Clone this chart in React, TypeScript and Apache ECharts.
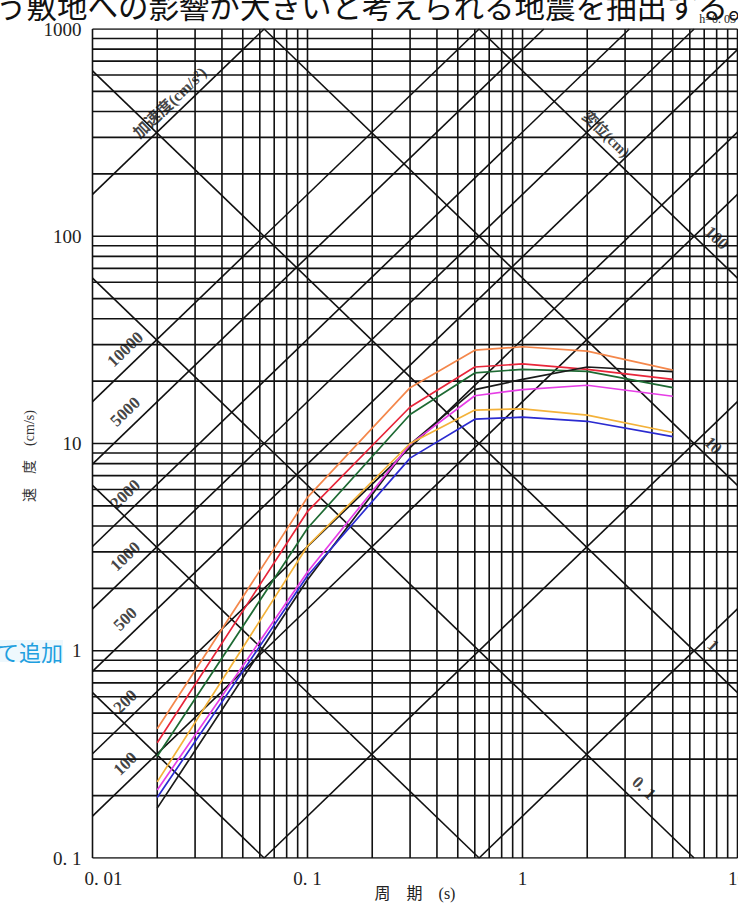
import React, { useEffect, useRef } from 'react';
import * as echarts from 'echarts';

// ---- data ----
const periods = [0.02, 0.1, 0.3, 0.6, 1, 2, 5];
const orangeV = [0.42, 5.5, 18.6, 28.2, 29.3, 27.9, 22.6];
const redV = [0.36, 4.7, 15.0, 23.4, 24.2, 22.8, 20.4];
const greenV = [0.31, 3.9, 13.8, 21.9, 22.8, 22.3, 18.6];
const blackV = [0.174, 2.2, 9.9, 18.2, 20.4, 23.4, 22.2];
const magentaV = [0.213, 2.4, 9.9, 17.0, 18.2, 19.1, 16.9];
const goldV = [0.233, 3.2, 10.0, 14.5, 14.7, 13.7, 11.3];
const blueV = [0.196, 2.3, 8.5, 13.1, 13.4, 12.8, 10.8];

const xTickText = ['0. 01', '0. 1', '1', '10'];
const yTickText = ['0. 1', '1', '10', '100', '1000'];

// tripartite guide lines
const accelLines = [1, 10, 100, 200, 500, 1000, 2000, 5000, 10000, 100000];
const accelLabels = [100, 200, 500, 1000, 2000, 5000, 10000];
const dispLines = [0.001, 0.01, 0.1, 1, 10, 100];
const dispLabels = [0.1, 1, 10, 100];
const dispLabelText = ['0. 1', '1', '10', '100'];

// ---- layout / style constants ----
const X_MIN = 0.01, X_MAX = 10, Y_MIN = 0.1, Y_MAX = 1000;
const TWO_PI = 2 * Math.PI;
const SERIF = '"Liberation Serif", "DejaVu Serif", "Noto Sans CJK JP", serif';
const GRID_COLOR = '#111111';
const accelLabelT = 0.0142;
const dispLabelT = [3.67, 7.7, 7.7, 8.0];
const dispLift = [1.27, 1.3, 1.2, 1.25];
const LIFT = 1.26;

function gridValues(lo: number, hi: number): number[] {
  const out: number[] = [];
  for (let d = lo; d < hi * 0.999; d *= 10) {
    for (let m = 1; m < 10; m++) out.push(parseFloat((m * d).toPrecision(3)));
  }
  out.push(hi);
  return out;
}

export default function App() {
  const ref = useRef<HTMLDivElement>(null);
  useEffect(() => {
    if (!ref.current) return;
    const chart = echarts.init(ref.current, null, { renderer: 'svg' });
    const series: any[] = [];
    const gridLine = (data: number[][]) => ({
      type: 'line', data, symbol: 'none', silent: true, z: 2,
      lineStyle: { color: GRID_COLOR, width: 1.6 },
    });
    gridValues(X_MIN, X_MAX).forEach((v) => series.push(gridLine([[v, Y_MIN], [v, Y_MAX]])));
    gridValues(Y_MIN, Y_MAX).forEach((v) => series.push(gridLine([[X_MIN, v], [X_MAX, v]])));
    // acceleration lines: V = A T / 2π, clipped to the plot box
    accelLines.forEach((a) => {
      const t1 = Math.max(X_MIN, (TWO_PI * Y_MIN) / a);
      const t2 = Math.min(X_MAX, (TWO_PI * Y_MAX) / a);
      if (t1 < t2) series.push(gridLine([[t1, (a * t1) / TWO_PI], [t2, (a * t2) / TWO_PI]]));
    });
    // displacement lines: V = 2π D / T
    dispLines.forEach((d) => {
      const t1 = Math.max(X_MIN, (TWO_PI * d) / Y_MAX);
      const t2 = Math.min(X_MAX, (TWO_PI * d) / Y_MIN);
      if (t1 < t2) series.push(gridLine([[t1, (TWO_PI * d) / t1], [t2, (TWO_PI * d) / t2]]));
    });

    const dataSeries = [
      { name: 'orange', v: orangeV, c: '#f4874b' },
      { name: 'red', v: redV, c: '#e8263a' },
      { name: 'green', v: greenV, c: '#1e6a33' },
      { name: 'black', v: blackV, c: '#1a1a1a' },
      { name: 'magenta', v: magentaV, c: '#e63ee6' },
      { name: 'gold', v: goldV, c: '#f3b23a' },
      { name: 'blue', v: blueV, c: '#2b2bd0' },
    ];
    dataSeries.forEach((s) =>
      series.push({
        type: 'line', name: s.name, symbol: 'none', z: 5,
        data: periods.map((t, i) => [t, s.v[i]]),
        lineStyle: { color: s.c, width: 1.7 },
      })
    );

    const labelPoint = (pt: number[], text: string, rotate: number, fontSize: number) => ({
      type: 'scatter', silent: true, z: 6, symbolSize: 1,
      itemStyle: { color: 'rgba(0,0,0,0)' },
      data: [pt],
      label: {
        show: true, position: 'inside', formatter: text, rotate,
        fontFamily: SERIF, fontSize, fontWeight: 'bold', color: '#111',
      },
    });
    accelLabels.forEach((a) =>
      series.push(labelPoint([accelLabelT, ((a * accelLabelT) / TWO_PI) * LIFT], String(a), 44, 17))
    );
    dispLabels.forEach((d, i) =>
      series.push(
        labelPoint([dispLabelT[i], ((TWO_PI * d) / dispLabelT[i]) * dispLift[i]], dispLabelText[i], -44, 17)
      )
    );
    series.push(labelPoint([0.0229, ((100000 * 0.0229) / TWO_PI) * 1.21], '加速度(cm/s²)', 44, 16));
    series.push(labelPoint([2.445, ((TWO_PI * 100) / 2.445) * 1.21], '変位(cm)', -44, 15));

    chart.setOption({
      animation: false,
      backgroundColor: '#ffffff',
      grid: { left: 92.5, top: 29, width: 645, height: 829, containLabel: false, outerBoundsMode: 'none' },
      xAxis: {
        type: 'log', logBase: 10, min: X_MIN, max: X_MAX,
        axisLine: { show: false }, axisTick: { show: false }, splitLine: { show: false },
        axisLabel: {
          margin: 11, fontFamily: SERIF, fontSize: 19, color: '#222',
          formatter: (v: number) => {
            const k = Math.round(Math.log10(v)) + 2;
            return k === 0 ? '{first|' + xTickText[0] + '}' : xTickText[k];
          },
          rich: { first: { fontFamily: SERIF, fontSize: 19, color: '#222', padding: [0, 0, 0, 22] } },
        },
      },
      yAxis: {
        type: 'log', logBase: 10, min: Y_MIN, max: Y_MAX,
        axisLine: { show: false }, axisTick: { show: false }, splitLine: { show: false },
        axisLabel: {
          margin: 11, fontFamily: SERIF, fontSize: 19, color: '#222',
          formatter: (v: number) => yTickText[Math.round(Math.log10(v)) + 1],
        },
      },
      graphic: [
        {
          type: 'text', x: -4, y: 5,
          style: {
            text: 'う敷地への影響が大きいと考えられる地震を抽出する。',
            fontFamily: '"Noto Sans CJK JP", sans-serif', fontSize: 30.5, fill: '#111',
            align: 'left', verticalAlign: 'middle',
          },
        },
        {
          type: 'text', x: 736, y: 19,
          style: { text: 'h=0. 05', fontFamily: SERIF, fontSize: 12, fill: '#222', align: 'right', verticalAlign: 'middle' },
        },
        {
          type: 'text', x: 63, y: 651,
          style: {
            text: 'て追加', fontFamily: '"Noto Sans CJK JP", sans-serif', fontSize: 22, fill: '#1f9fdf',
            align: 'right', verticalAlign: 'middle', backgroundColor: '#eef8fd',
          },
        },
        {
          type: 'text', x: 29, y: 456, rotation: Math.PI / 2,
          style: { text: '速　度　(cm/s)', fontFamily: SERIF, fontSize: 14, fill: '#333', align: 'center', verticalAlign: 'middle' },
        },
        {
          type: 'text', x: 415, y: 893,
          style: { text: '周　期　(s)', fontFamily: SERIF, fontSize: 16, fill: '#222', align: 'center', verticalAlign: 'middle' },
        },
      ],
      series,
    });
    return () => chart.dispose();
  }, []);
  return <div ref={ref} style={{ position: 'fixed', left: 0, top: 0, width: 738, height: 903 }} />;
}
